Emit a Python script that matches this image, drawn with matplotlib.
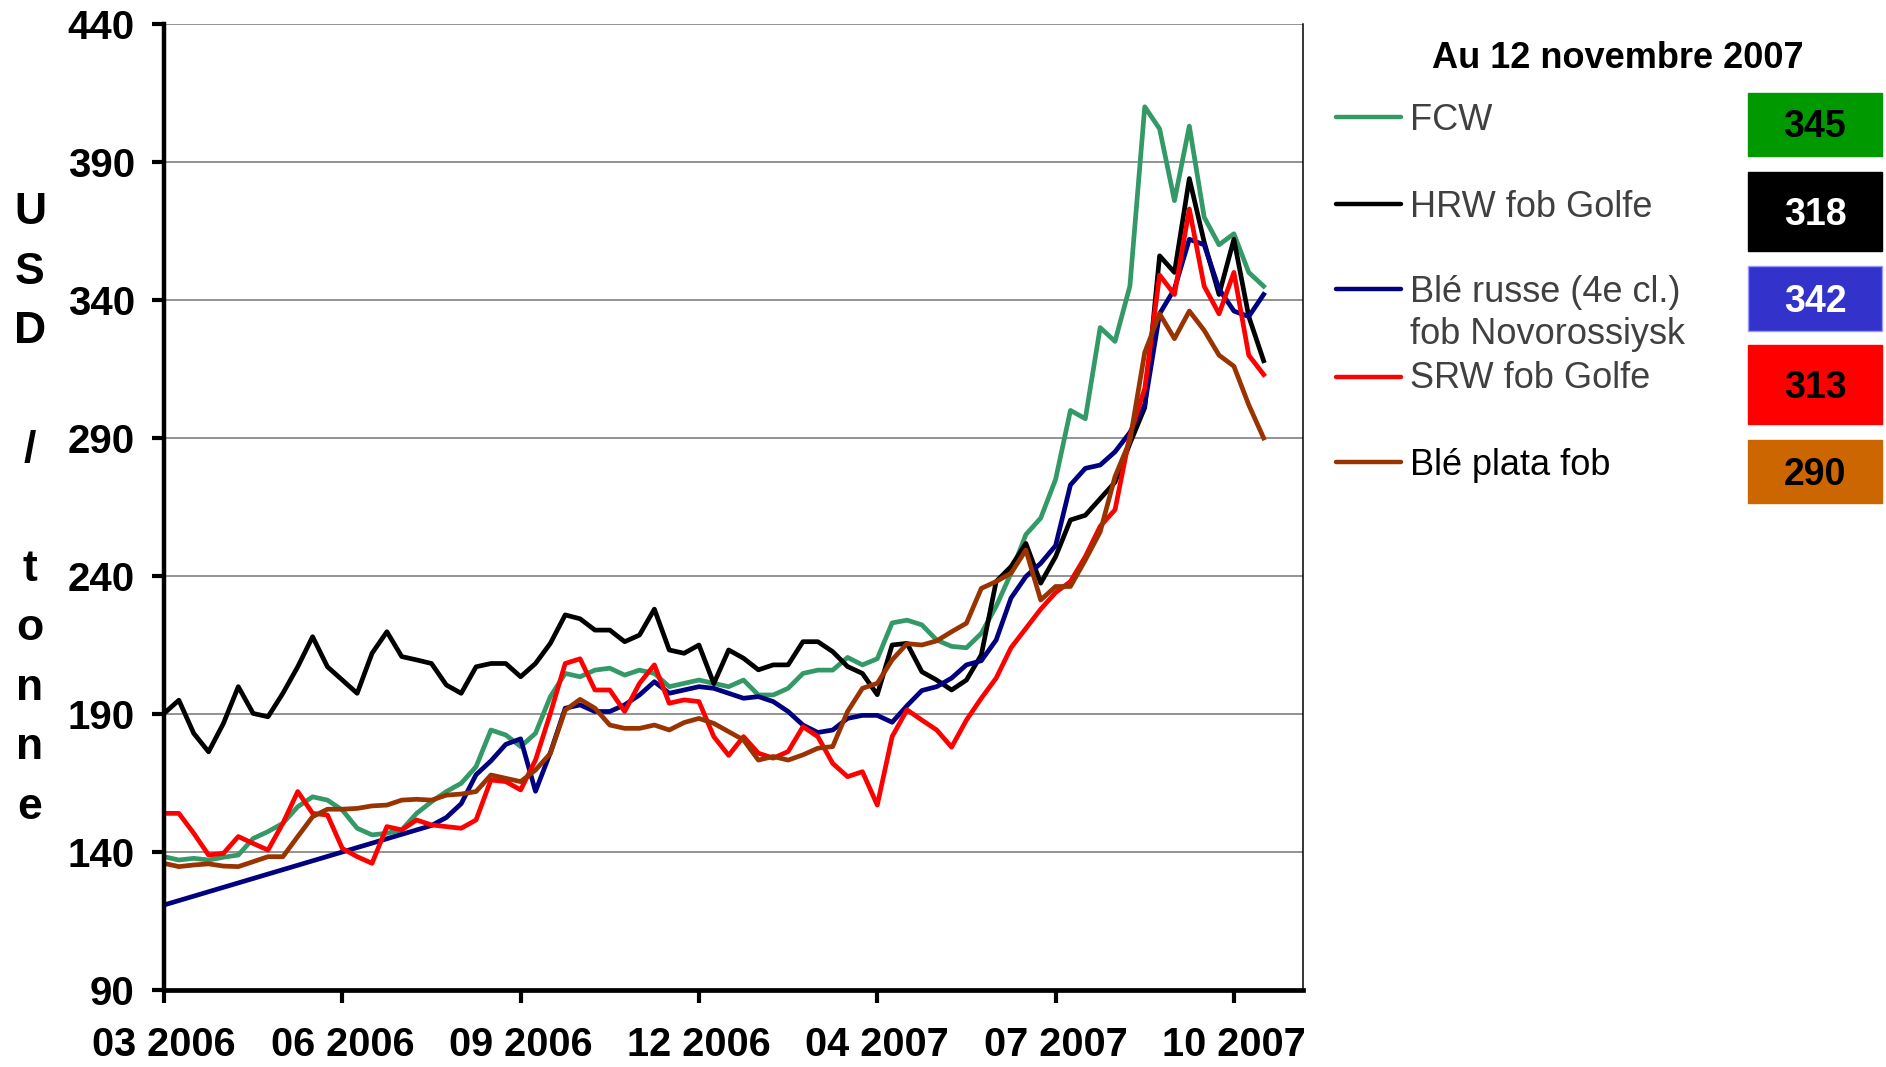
# coding: utf-8
"""Prix export du blé (USD / tonne), mars 2006 - novembre 2007."""

import numpy as np

from matplotlib import pyplot as plt
from matplotlib.lines import Line2D
from matplotlib.patches import Rectangle

plt.rcParams["font.family"] = ["Liberation Sans", "DejaVu Sans"]

# Data: one value every twelfth of the gap between two date labels
date_labels = ["03 2006", "06 2006", "09 2006", "12 2006",
               "04 2007", "07 2007", "10 2007"]
steps_per_label = 12

fcw = [138.3, 137.1, 137.7, 137.1, 138.1, 138.9, 144.9, 147.4, 150.4, 156.4,
       160.0, 158.8, 155.2, 148.6, 146.2, 146.8, 148.0, 154.0, 158.2, 161.9,
       164.9, 170.9, 184.2, 182.4, 178.2, 183.0, 196.3, 204.7, 203.5, 205.9,
       206.6, 204.1, 205.9, 204.7, 199.9, 201.1, 202.3, 201.1, 199.9, 202.3,
       196.9, 196.9, 199.3, 204.7, 205.9, 205.9, 210.5, 207.8, 210.0, 223.0,
       224.0, 222.3, 216.8, 214.5, 214.0, 219.2, 229.0, 241.0, 255.0, 261.0,
       275.0, 300.0, 297.0, 330.0, 325.0, 345.0, 410.0, 402.0, 376.0, 403.0,
       370.0, 360.0, 364.0, 350.0, 345.0]

hrw = [190.2, 195.0, 183.0, 176.3, 186.6, 199.9, 190.2, 189.0, 197.5, 207.1,
       218.0, 207.1, 202.3, 197.5, 212.0, 219.8, 210.8, 209.6, 208.3, 200.5,
       197.5, 207.1, 208.3, 208.3, 203.5, 208.3, 215.6, 225.9, 224.5, 220.4,
       220.4, 216.2, 218.6, 228.0, 213.2, 212.0, 215.0, 201.0, 213.2, 210.2,
       206.0, 207.8, 207.8, 216.2, 216.2, 212.6, 207.2, 204.7, 197.0, 215.0,
       215.6, 205.3, 202.3, 198.7, 202.3, 211.4, 238.0, 243.4, 251.8, 237.4,
       247.0, 260.3, 262.0, 268.0, 274.0, 288.0, 301.0, 356.0, 350.0, 384.0,
       361.0, 342.0, 362.0, 334.0, 318.0]

russe = [120.8, 122.4, 124.0, 125.6, 127.2, 128.8, 130.4, 132.0, 133.6, 135.2,
         136.8, 138.4, 140.0, 141.6, 143.2, 144.8, 146.4, 148.0, 149.6, 152.5,
         157.5, 168.0, 173.0, 179.0, 181.0, 162.0, 176.0, 192.1, 193.3, 190.9,
         190.9, 193.3, 196.9, 201.7, 197.5, 198.7, 199.9, 199.3, 197.5, 195.7,
         196.3, 194.5, 190.9, 186.0, 183.3, 184.2, 188.4, 189.5, 189.5, 187.0,
         193.0, 198.5, 199.9, 203.0, 207.8, 209.3, 216.8, 232.0, 239.8, 244.6,
         251.0, 273.0, 279.0, 280.2, 285.0, 292.0, 302.0, 335.0, 344.0, 362.0,
         360.0, 344.0, 336.0, 334.0, 342.0]

srw = [154.0, 154.0, 146.8, 138.9, 139.5, 145.6, 143.1, 140.7, 150.4, 161.9,
       154.0, 153.4, 141.3, 138.3, 135.9, 149.2, 148.0, 151.6, 149.8, 149.2,
       148.6, 151.6, 166.1, 165.5, 162.5, 173.3, 190.2, 208.3, 210.0, 198.7,
       198.7, 190.9, 201.1, 207.8, 193.9, 195.1, 194.5, 181.8, 175.0, 181.8,
       175.8, 174.0, 176.4, 185.4, 181.8, 172.1, 167.3, 169.1, 157.0, 181.8,
       191.5, 187.8, 184.2, 178.0, 187.8, 195.7, 203.0, 214.0, 221.0, 228.0,
       234.0, 238.0, 247.0, 258.0, 264.0, 291.0, 308.0, 349.0, 342.0, 373.0,
       345.0, 335.0, 350.0, 320.0, 313.0]

plata = [135.9, 134.7, 135.3, 135.7, 134.9, 134.7, 136.5, 138.3, 138.3, 145.6,
         152.8, 155.5, 155.5, 155.8, 156.7, 157.0, 158.8, 159.1, 158.8, 160.6,
         161.0, 161.9, 167.9, 166.7, 165.5, 169.7, 175.7, 191.4, 195.3, 192.1,
         186.0, 184.8, 184.8, 186.0, 184.2, 186.9, 188.4, 186.6, 183.6, 180.6,
         173.3, 174.6, 173.3, 175.2, 177.6, 178.2, 190.9, 199.3, 201.1, 209.6,
         215.5, 215.0, 216.5, 219.8, 222.9, 235.5, 238.0, 241.0, 249.4, 231.3,
         236.2, 236.2, 245.8, 256.0, 276.0, 289.0, 321.0, 335.0, 326.0, 336.0,
         329.0, 320.0, 316.0, 302.0, 290.0]

series = [fcw, hrw, russe, srw, plata]
names = ["FCW", "HRW fob Golfe", "Blé russe (4e cl.)\nfob Novorossiysk",
         "SRW fob Golfe", "Blé plata fob"]
last_values = [345, 318, 342, 313, 290]
title = "Au 12 novembre 2007"

# Style
line_colors = ["#339966", "#000000", "#000080", "#ff0000", "#993300"]
name_colors = ["#404040", "#404040", "#404040", "#404040", "#000000"]
box_colors = ["#009900", "#000000", "#3333cc", "#ff0000", "#cc6600"]
box_text_colors = ["black", "white", "white", "black", "black"]

W, H = 1886, 1067


def fx(px):
    """Pixel column to figure fraction."""
    return px / W


def fy(py):
    """Pixel row (from top) to figure fraction."""
    return 1 - py / H


# Figure
fig = plt.figure(figsize=(W / 100, H / 100), dpi=100)
ax = fig.add_axes([fx(164), fy(990), fx(1303) - fx(164), fy(24) - fy(990)])

# Show
x = np.arange(len(fcw))
for values, color in zip(series, line_colors):
    ax.plot(x, values, color=color, lw=3.4, solid_joinstyle="round")

# Axes
ax.set_xlim(0, 76.65)
ax.set_ylim(90, 440)
ax.set_yticks(np.arange(90, 441, 50))
ax.set_xticks(np.arange(len(date_labels)) * steps_per_label)
ax.set_xticklabels(date_labels)
ax.yaxis.grid(True, color="#808080", lw=1.2)
ax.set_axisbelow(True)

ax.spines["top"].set_visible(False)
ax.spines["left"].set_linewidth(3.2)
ax.spines["bottom"].set_linewidth(3.4)
ax.spines["right"].set_linewidth(1.1)
ax.tick_params(axis="both", direction="out", length=9, width=3)
ax.tick_params(axis="y", pad=12, labelsize=29)
ax.tick_params(axis="x", pad=17, labelsize=28.5)
for label in ax.get_xticklabels() + ax.get_yticklabels():
    label.set_fontweight("bold")

# Vertical unit label
fig.text(fx(30), fy(510), "U\nS\nD\n\n/\n\nt\no\nn\nn\ne",
         ha="center", va="center", fontsize=32, fontweight="bold",
         linespacing=1.578)

# Legend with latest values
fig.text(fx(1618), fy(68), title, ha="center", va="baseline",
         fontsize=26, fontweight="bold")

line_rows = [117, 204, 289, 377, 462]
name_rows = [130, 217, 302, 388, 475]
box_rows = [(93, 156), (172, 251), (266, 331), (345, 424), (440, 503)]
value_rows = [137, 225, 312, 398, 485]

for k in range(len(names)):
    fig.add_artist(Line2D([fx(1336), fx(1401)], [fy(line_rows[k])] * 2,
                          color=line_colors[k], lw=3.2,
                          solid_capstyle="round"))
    for j, part in enumerate(names[k].split("\n")):
        fig.text(fx(1410), fy(name_rows[k] + 41.6 * j), part,
                 ha="left", va="baseline", fontsize=26,
                 color=name_colors[k])
    top, bottom = box_rows[k]
    edge = "#9999ff" if k == 2 else box_colors[k]
    fig.add_artist(Rectangle((fx(1748), fy(bottom)), fx(1882) - fx(1748),
                             fy(top) - fy(bottom), facecolor=box_colors[k],
                             edgecolor=edge, lw=1))
    fig.text(fx(1815), fy(value_rows[k]), str(last_values[k]),
             ha="center", va="baseline", fontsize=27, fontweight="bold",
             color=box_text_colors[k])

fig.savefig("out.png", dpi=100)
